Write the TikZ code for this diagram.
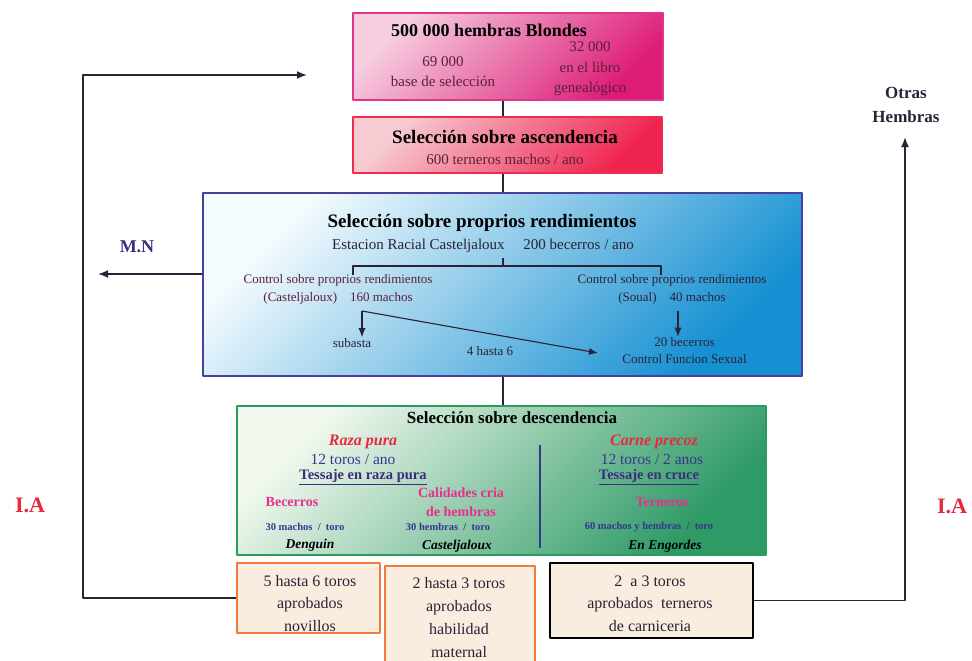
\documentclass[tikz,border=0pt]{standalone}
\usepackage{fontspec}
\setmainfont{Liberation Serif}
\usetikzlibrary{arrows,arrows.meta,positioning,calc}
\definecolor{pinkL}{HTML}{F5CFE0}
\definecolor{pinkD}{HTML}{DD1C78}
\definecolor{pinkB}{HTML}{E0368A}
\definecolor{redL}{HTML}{F6CCD2}
\definecolor{redD}{HTML}{EF2450}
\definecolor{redB}{HTML}{EE2C4E}
\definecolor{blueL}{HTML}{F4FBFD}
\definecolor{blueM}{HTML}{8FD0EE}
\definecolor{blueD}{HTML}{1590D2}
\definecolor{blueB}{HTML}{4A3F9E}
\definecolor{greenL}{HTML}{F0F8EE}
\definecolor{greenM}{HTML}{98D0AE}
\definecolor{greenD}{HTML}{2E9A66}
\definecolor{greenB}{HTML}{2B9960}
\definecolor{beige}{HTML}{F8EDDF}
\definecolor{orangeB}{HTML}{F27B3F}
\definecolor{lineC}{HTML}{2B2235}
\definecolor{maroon}{HTML}{5E1E3A}
\definecolor{txtBlue}{HTML}{363690}
\definecolor{txtRed}{HTML}{E8283E}
\definecolor{txtMag}{HTML}{E8308A}
\definecolor{txtPurp}{HTML}{3E2C80}
\newcommand \myfs[2]{\fontsize{#1}{#2}\selectfont}

\begin{document}
\begin{tikzpicture}[x=1pt, y=-1pt, line join=round,
  box/.style={draw, line width=2pt, inner sep=0pt},
  pinkbox/.style={box, draw=pinkB, top color=pinkL, bottom color=pinkD, shading angle=45},
  redbox/.style={box, draw=redB, top color=redL, bottom color=redD, shading angle=45},
  bluebox/.style={box, draw=blueB, top color=blueL, middle color=blueM, bottom color=blueD, shading angle=45},
  greenbox/.style={box, draw=greenB, top color=greenL, middle color=greenM, bottom color=greenD, shading angle=45},
  toro/.style={box, line width=2.6pt, fill=beige, draw=orangeB},
  txt/.style={inner sep=1pt, align=center},
  link/.style={draw=lineC, line width=1.8pt},
  arr/.style={link, -{Latex[length=10pt, width=8pt]}},
  thin/.style={draw=lineC, line width=1.1pt},
  thinarr/.style={thin, -{Latex[length=9pt, width=7pt]}}]
\useasboundingbox (0,0) rectangle (972,661);
\fill[white] (0,0) rectangle (972,661);

% cajas
\node[pinkbox,  minimum width=310, minimum height=87]  (blondes)  at (508,56.5) {};
\node[redbox,   minimum width=309, minimum height=56]  (ascend)   at (507.5,145) {};
\node[bluebox,  minimum width=599, minimum height=183] (propios)  at (502.5,284) {};
\node[greenbox, minimum width=529, minimum height=149] (descend)  at (501.5,480) {};
\node[toro, minimum width=143, minimum height=70]  (novillos)   at (308.5,598) {};
\node[toro, minimum width=150, minimum height=104] (maternal)   at (460,618) {};
\node[toro, draw=black, minimum width=203, minimum height=75] (carniceria) at (651.5,600.5) {};

% eje central
\coordinate (cx) at (503,0);
\draw[link] (blondes.south -| cx) -- (ascend.north -| cx);
\draw[link] (ascend.south -| cx) -- (propios.north -| cx);
\draw[link] (propios.south -| cx) -- (descend.north -| cx);

% caja 1
\node[txt, font=\bfseries\myfs{18}{22}] (blondesT) at (489,30) {500 000 hembras Blondes};
\node[txt, text=maroon, font=\myfs{15}{20}] (base)  at (443,72) {69 000\\base de selección};
\node[txt, text=maroon, font=\myfs{15}{20.5}] (libro) at (590,69) {32 000\\en el libro\\genealógico};

% caja 2
\node[txt, font=\bfseries\myfs{19}{22}] (ascendT) at (505,137) {Selección sobre ascendencia};
\node[txt, text=maroon, font=\myfs{15}{18}] (terneros) at (505,159) {600 terneros machos / ano};

% caja 3
\node[txt, font=\bfseries\myfs{19}{22}] (propiosT) at (482,223) {Selección sobre proprios rendimientos};
\node[txt, text=lineC, font=\myfs{15}{18}] (estacion) at (483,246) {Estacion Racial Casteljaloux\hspace{1em} 200 becerros / ano};
\coordinate (br) at (503,258);
\draw[thin] (br) -- ++(0,8);
\draw[thin] (353,275) |- (661,266) -- (661,275);
\node[txt, text=maroon, font=\myfs{13}{18}] (ctrlA) at (338,289) {Control sobre proprios\ rendimientos\\(Casteljaloux)\quad 160 machos};
\node[txt, text=lineC, font=\myfs{13}{18}] (ctrlB) at (672,289.5) {Control sobre proprios\ rendimientos\\(Soual)\quad 40 machos};
\node[txt, text=lineC, font=\myfs{13}{16}] (subasta) at (352,343) {subasta};
\node[txt, text=lineC, font=\myfs{13}{16}] (hasta) at (490,351) {4 hasta 6};
\node[txt, text=lineC, font=\myfs{13}{17}] (sexual) at (684.5,351) {20 becerros\\Control Funcion\ Sexual};
\coordinate (ca) at (362,311);
\coordinate (cb) at (678,311);
\coordinate (tip) at (598,353);
\draw[thinarr] (ca) -- (ca |- subasta.north);
\draw[thinarr] (ca) -- (tip);
\draw[thinarr] (cb) -- (cb |- sexual.north);

% caja 4
\node[txt, font=\bfseries\myfs{17}{20}] (descendT) at (512,418) {Selección\ sobre descendencia};
\coordinate (dv1) at (540,445);
\coordinate (dv2) at (540,548);
\draw[draw=txtBlue, line width=1.4pt] (dv1) -- (dv2);
\node[txt, text=txtRed, font=\bfseries\itshape\myfs{16}{18}] (raza) at (363,442) {Raza pura};
\node[txt, text=txtBlue, font=\myfs{15.5}{18}] (torosA) at (353,459) {12 toros / ano};
\node[txt, text=txtPurp, font=\bfseries\myfs{14.5}{16}] (tessA) at (363,477) {\underline{Tessaje en raza pura}};
\node[txt, text=txtMag, font=\bfseries\myfs{14}{16}] (becerros) at (292,502) {Becerros};
\node[txt, text=txtMag, font=\bfseries\myfs{14}{19}] (calidades) at (461,502.5) {Calidades cria\\de hembras};
\node[txt, text=txtBlue, font=\bfseries\myfs{10.5}{12}] (machosA) at (305,527) {30 machos\ \ /\ \ toro};
\node[txt, text=txtBlue, font=\bfseries\myfs{10.5}{12}] (hembrasA) at (448,527) {30 hembras\ \ /\ \ toro};
\node[txt, font=\bfseries\itshape\myfs{13.5}{16}] (denguin) at (310,545) {Denguin};
\node[txt, font=\bfseries\itshape\myfs{13.5}{16}] (castel) at (457,546) {Casteljaloux};
\node[txt, text=txtRed, font=\bfseries\itshape\myfs{16}{18}] (carne) at (654,442) {Carne precoz};
\node[txt, text=txtBlue, font=\myfs{15.5}{18}] (torosB) at (652,459) {12 toros / 2 anos};
\node[txt, text=txtPurp, font=\bfseries\myfs{14.5}{16}] (tessB) at (649,477) {\underline{Tessaje en cruce}};
\node[txt, text=txtMag, font=\bfseries\myfs{14}{16}] (ternerosB) at (662,502) {Terneros};
\node[txt, text=txtBlue, font=\bfseries\myfs{10.5}{12}] (mixto) at (649,527) {60 machos y hembras\ \ /\ \ toro};
\node[txt, font=\bfseries\itshape\myfs{13.5}{16}] (engordes) at (665,546) {En Engordes};

% toros aprobados
\node[txt, text=lineC, font=\myfs{16}{22.5}] (novillosT) at (310,603.5) {5 hasta 6 toros\\aprobados\\novillos};
\node[txt, text=lineC, font=\myfs{16}{23}] (maternalT) at (459,617.5) {2 hasta 3 toros\\aprobados\\habilidad\\maternal};
\node[txt, text=lineC, font=\myfs{16}{22.5}] (carniceriaT) at (650,603.5) {2\ \ a 3 toros\\aprobados\ \ terneros\\de carniceria};

% lazos exteriores
\coordinate (lb) at (83,75);
\coordinate (lc) at (307,75);
\draw[arr] (novillos.west) -- (novillos.west -| lb) -- (lb) -- (lc);
\coordinate (rt) at (905,137);
\draw[arr] (carniceria.east) -- (carniceria.east -| rt) -- (rt);
\coordinate (mn) at (98,274);
\draw[arr] (propios.west |- mn) -- (mn);

\node[txt, text=txtPurp, font=\bfseries\myfs{18}{20}] (mnT) at (137,247) {M.N};
\node[txt, text=txtRed, font=\bfseries\myfs{22}{24}] (iaL) at (30,505) {I.A};
\node[txt, text=txtRed, font=\bfseries\myfs{22}{24}] (iaR) at (952,506) {I.A};
\node[txt, text=lineC, font=\bfseries\myfs{17}{24}] (otras) at (906,105) {Otras\\Hembras};
\end{tikzpicture}
\end{document}
